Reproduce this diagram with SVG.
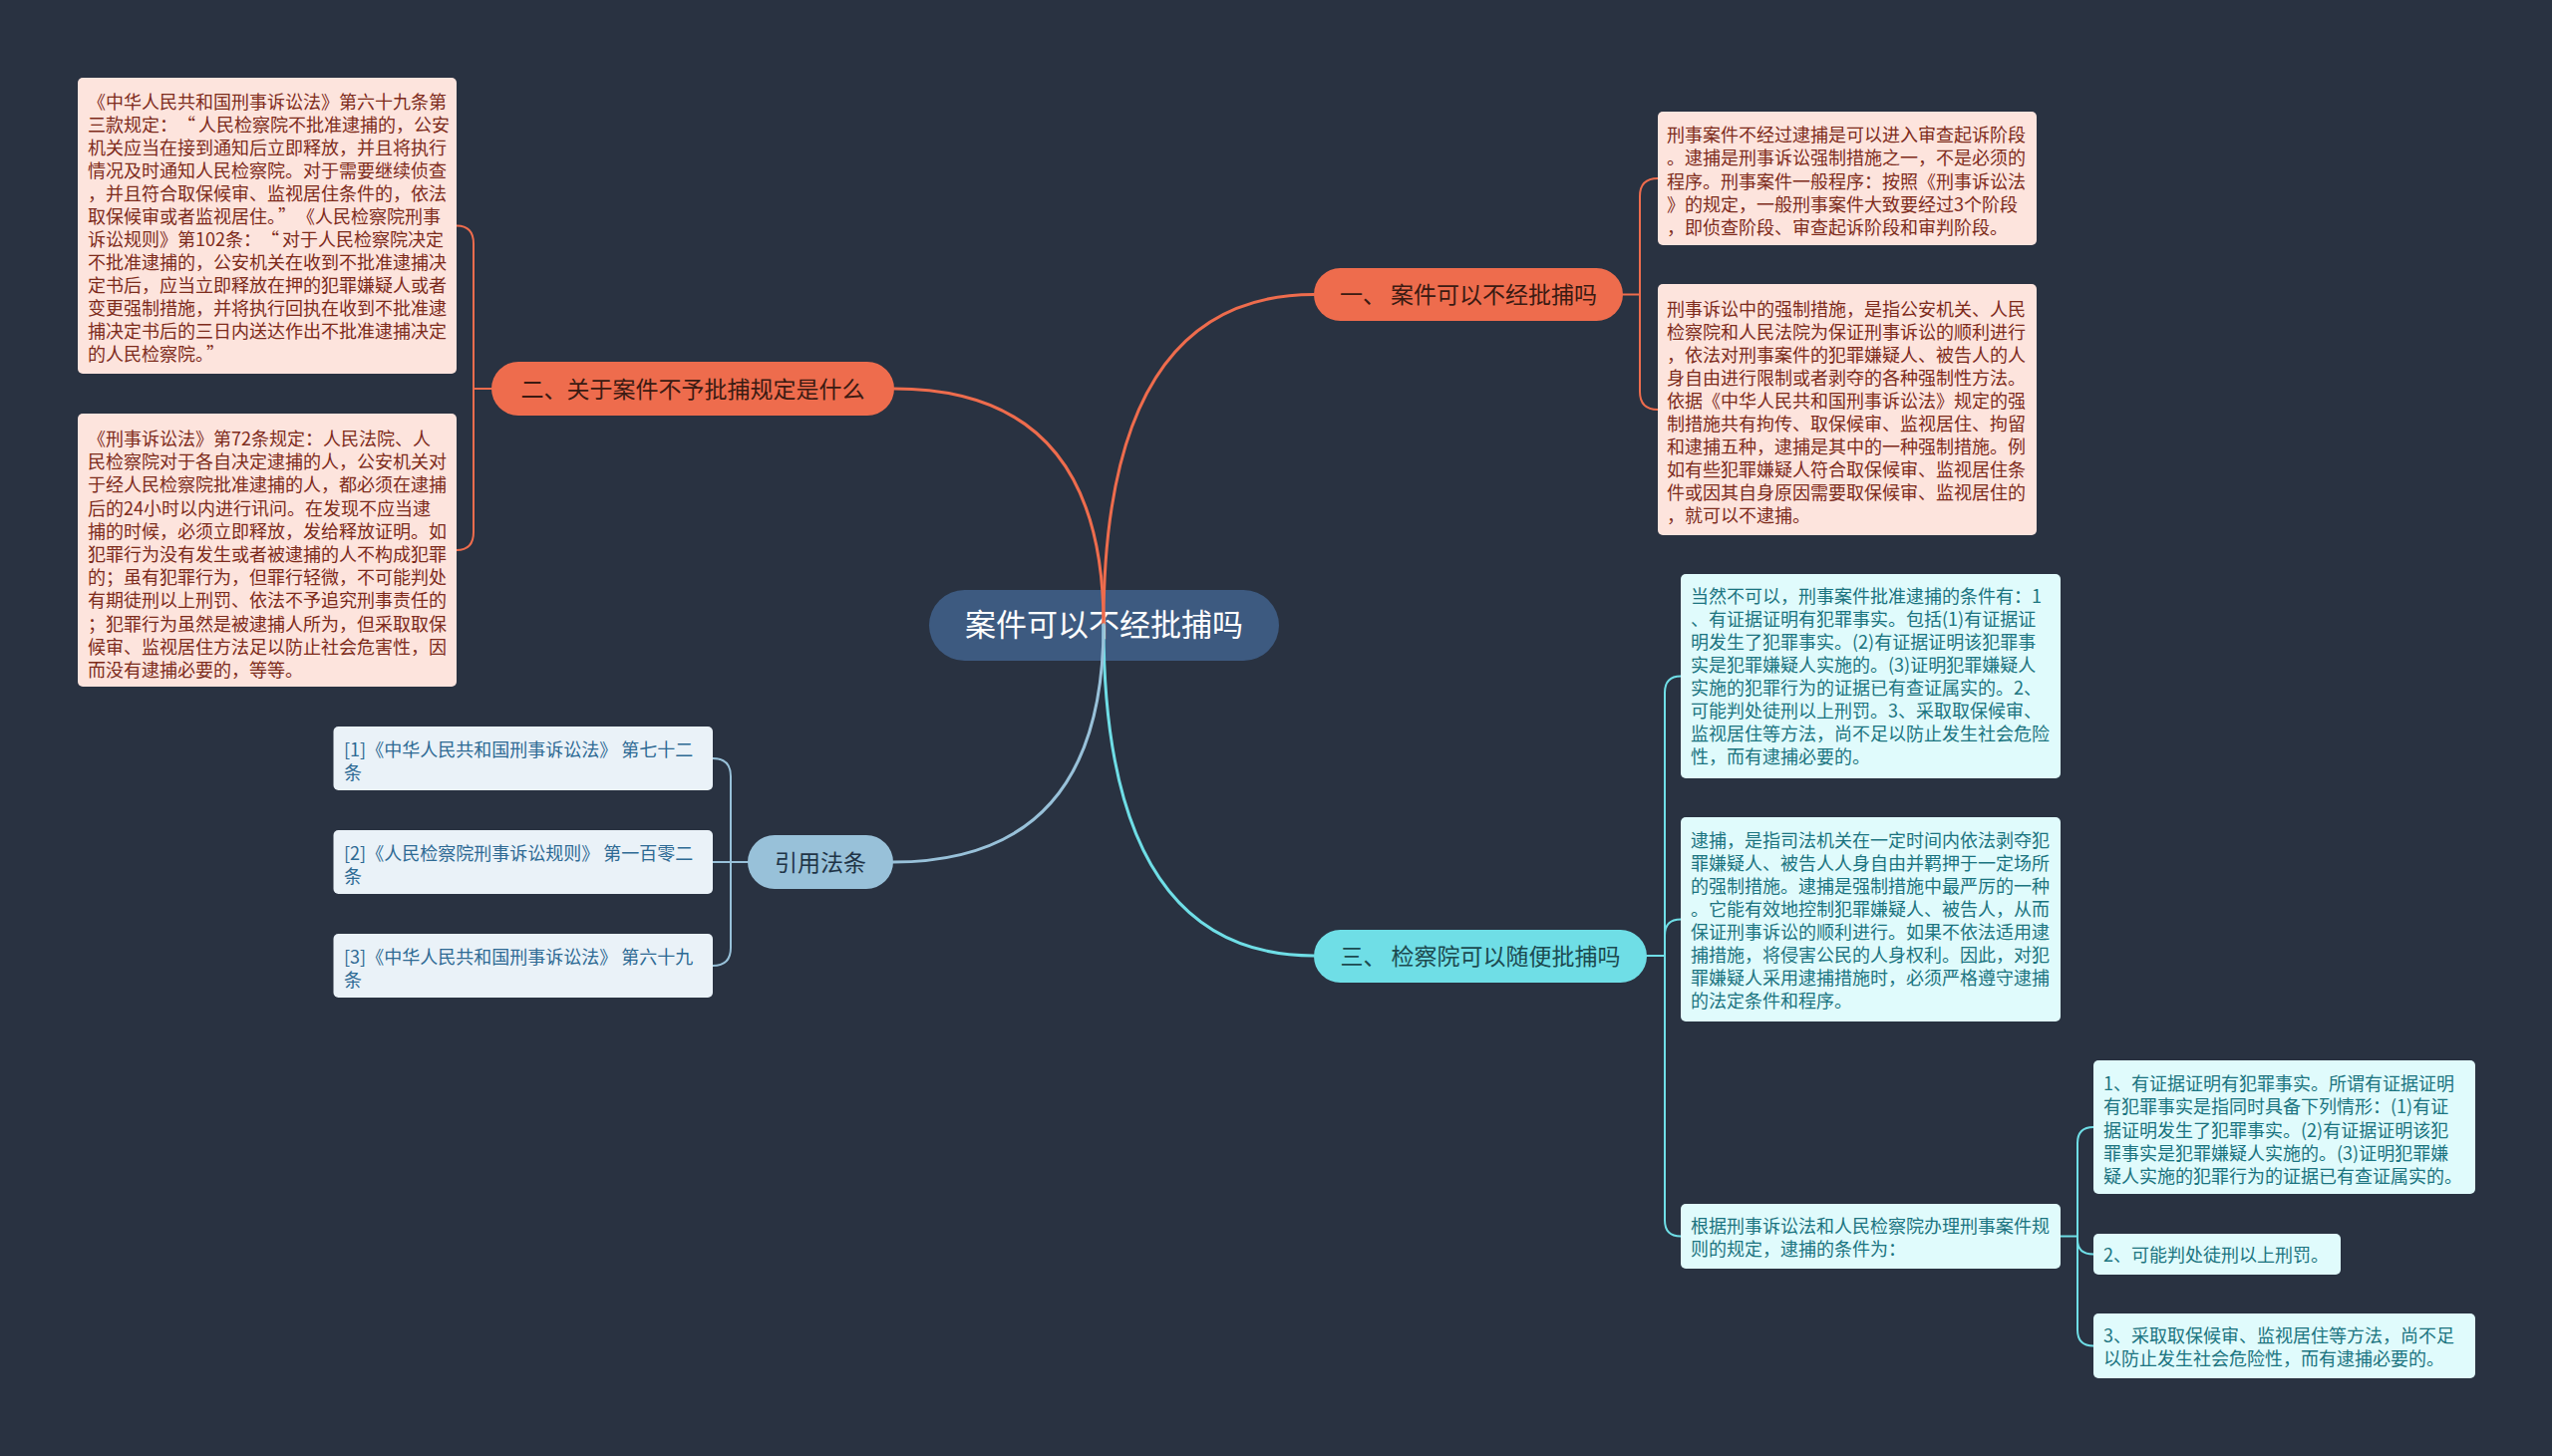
<svg xmlns="http://www.w3.org/2000/svg" width="2560" height="1461" viewBox="0 0 2560 1461">
<style>
text{font-family:"Noto Sans CJK SC","Liberation Sans",sans-serif}
.bg{fill:#293241}
.pk{fill:#fde4dd}
.pkt{fill:#7d2b1b;font-size:18px}
.cy{fill:#e0fbfc}
.cyt{fill:#1b7480;font-size:18px}
.bl{fill:#eaf2f8}
.blt{fill:#2e6a94;font-size:18px}
.nt{font-size:23px;text-anchor:middle}
.c{fill:none;stroke-linecap:round}
.or{stroke:#ee6c4d}
.cn{stroke:#6fdee6}
.bu{stroke:#98c1d9}
.m{stroke-width:3}
.s{stroke-width:2}
</style>
<rect class="bg" x="0" y="0" width="2560" height="1461"/>

<g id="root">
<rect x="932" y="592" width="351" height="71" rx="35.5" fill="#3d5a80"/>
<text x="1107.5" y="638" font-size="31" fill="#ffffff" text-anchor="middle">案件可以不经批捕吗</text>
</g>

<g id="connectors">
<path class="c or m" d="M1107 627 Q1107 295.5 1318 295.5"/>
<path class="c or m" d="M1107 627 Q1107 390 897 390"/>
<path class="c cn m" d="M1107 627 Q1107 959 1318 959"/>
<path class="c bu m" d="M1107 627 Q1107 865 896 865"/>
<path class="c or s" d="M1628 295.5 H1645 M1645 295.5 V197 Q1645 179 1663 179 M1645 295.5 V393 Q1645 411 1663 411"/>
<path class="c or s" d="M493 390 H475 M475 390 V244.5 Q475 226.5 458 226.5 M475 390 V534 Q475 552 458 552"/>
<path class="c bu s" d="M750 865 H715 M733 865 V779 Q733 761 715 761 M733 865 V951 Q733 969 715 969"/>
<path class="c cn s" d="M1652 959 H1670 M1670 959 V695 Q1670 678.5 1686 678.5 M1670 959 V938.5 Q1670 922.5 1686 922.5 M1670 959 V1224.5 Q1670 1240.5 1686 1240.5"/>
<path class="c cn s" d="M2067 1240.5 H2084 M2084 1240.5 V1147 Q2084 1131 2100 1131 M2084 1240.5 V1244 Q2084 1258.5 2100 1258.5 M2084 1240.5 V1334.5 Q2084 1350.5 2100 1350.5"/>
</g>

<g id="n1">
<rect x="1318" y="269" width="310" height="53" rx="26.5" fill="#ee6c4d"/>
<text class="nt" x="1473" y="304" fill="#3a1a12">一、 案件可以不经批捕吗</text>
</g>

<g id="n2">
<rect x="493" y="363" width="404" height="54" rx="27" fill="#ee6c4d"/>
<text class="nt" x="695" y="398.5" fill="#3a1a12">二、关于案件不予批捕规定是什么</text>
</g>

<g id="n3">
<rect x="1318" y="933" width="334" height="53" rx="26.5" fill="#6fdee6"/>
<text class="nt" x="1485" y="968" fill="#1c4a50">三、 检察院可以随便批捕吗</text>
</g>

<g id="n4">
<rect x="750" y="838" width="146" height="54" rx="27" fill="#98c1d9"/>
<text class="nt" x="823" y="873.5" fill="#1f3447">引用法条</text>
</g>

<g id="n1a">
<rect class="pk" x="1663" y="112" width="380" height="134" rx="5"/>
<text class="pkt">
<tspan x="1672" y="142">刑事案件不经过逮捕是可以进入审查起诉阶段</tspan>
<tspan x="1672" y="165.3">。逮捕是刑事诉讼强制措施之一，不是必须的</tspan>
<tspan x="1672" y="188.6">程序。刑事案件一般程序：按照《刑事诉讼法</tspan>
<tspan x="1672" y="211.9">》的规定，一般刑事案件大致要经过3个阶段</tspan>
<tspan x="1672" y="235.2">，即侦查阶段、审查起诉阶段和审判阶段。</tspan>
</text>
</g>

<g id="n1b">
<rect class="pk" x="1663" y="285" width="380" height="252" rx="5"/>
<text class="pkt">
<tspan x="1672" y="317">刑事诉讼中的强制措施，是指公安机关、人民</tspan>
<tspan x="1672" y="340">检察院和人民法院为保证刑事诉讼的顺利进行</tspan>
<tspan x="1672" y="363">，依法对刑事案件的犯罪嫌疑人、被告人的人</tspan>
<tspan x="1672" y="386">身自由进行限制或者剥夺的各种强制性方法。</tspan>
<tspan x="1672" y="409">依据《中华人民共和国刑事诉讼法》规定的强</tspan>
<tspan x="1672" y="432">制措施共有拘传、取保候审、监视居住、拘留</tspan>
<tspan x="1672" y="455">和逮捕五种，逮捕是其中的一种强制措施。例</tspan>
<tspan x="1672" y="478">如有些犯罪嫌疑人符合取保候审、监视居住条</tspan>
<tspan x="1672" y="501">件或因其自身原因需要取保候审、监视居住的</tspan>
<tspan x="1672" y="524">，就可以不逮捕。</tspan>
</text>
</g>

<g id="n2a">
<rect class="pk" x="78" y="78" width="380" height="297" rx="5"/>
<text class="pkt">
<tspan x="88" y="109">《中华人民共和国刑事诉讼法》第六十九条第</tspan>
<tspan x="88" y="132">三款规定：<tspan dx="9">“</tspan><tspan dx="3">人民检察院不批准逮捕的，公安</tspan></tspan>
<tspan x="88" y="155">机关应当在接到通知后立即释放，并且将执行</tspan>
<tspan x="88" y="178">情况及时通知人民检察院。对于需要继续侦查</tspan>
<tspan x="88" y="201">，并且符合取保候审、监视居住条件的，依法</tspan>
<tspan x="88" y="224">取保候审或者监视居住。<tspan dx="2">”</tspan><tspan dx="10">《人民检察院刑事</tspan></tspan>
<tspan x="88" y="247">诉讼规则》第102条：<tspan dx="9">“</tspan><tspan dx="3">对于人民检察院决定</tspan></tspan>
<tspan x="88" y="270">不批准逮捕的，公安机关在收到不批准逮捕决</tspan>
<tspan x="88" y="293">定书后，应当立即释放在押的犯罪嫌疑人或者</tspan>
<tspan x="88" y="316">变更强制措施，并将执行回执在收到不批准逮</tspan>
<tspan x="88" y="339">捕决定书后的三日内送达作出不批准逮捕决定</tspan>
<tspan x="88" y="362">的人民检察院。<tspan dx="2">”</tspan></tspan>
</text>
</g>

<g id="n2b">
<rect class="pk" x="78" y="415" width="380" height="274" rx="5"/>
<text class="pkt">
<tspan x="88" y="447">《刑事诉讼法》第72条规定：人民法院、人</tspan>
<tspan x="88" y="470.2">民检察院对于各自决定逮捕的人，公安机关对</tspan>
<tspan x="88" y="493.4">于经人民检察院批准逮捕的人，都必须在逮捕</tspan>
<tspan x="88" y="516.6">后的24小时以内进行讯问。在发现不应当逮</tspan>
<tspan x="88" y="539.8">捕的时候，必须立即释放，发给释放证明。如</tspan>
<tspan x="88" y="563">犯罪行为没有发生或者被逮捕的人不构成犯罪</tspan>
<tspan x="88" y="586.2">的；虽有犯罪行为，但罪行轻微，不可能判处</tspan>
<tspan x="88" y="609.4">有期徒刑以上刑罚、依法不予追究刑事责任的</tspan>
<tspan x="88" y="632.6">；犯罪行为虽然是被逮捕人所为，但采取取保</tspan>
<tspan x="88" y="655.8">候审、监视居住方法足以防止社会危害性，因</tspan>
<tspan x="88" y="679">而没有逮捕必要的，等等。</tspan>
</text>
</g>

<g id="n3a">
<rect class="cy" x="1686" y="576" width="381" height="205" rx="5"/>
<text class="cyt">
<tspan x="1696" y="605">当然不可以，刑事案件批准逮捕的条件有：1</tspan>
<tspan x="1696" y="628">、有证据证明有犯罪事实。包括(1)有证据证</tspan>
<tspan x="1696" y="651">明发生了犯罪事实。(2)有证据证明该犯罪事</tspan>
<tspan x="1696" y="674">实是犯罪嫌疑人实施的。(3)证明犯罪嫌疑人</tspan>
<tspan x="1696" y="697">实施的犯罪行为的证据已有查证属实的。2、</tspan>
<tspan x="1696" y="720">可能判处徒刑以上刑罚。3、采取取保候审、</tspan>
<tspan x="1696" y="743">监视居住等方法，尚不足以防止发生社会危险</tspan>
<tspan x="1696" y="766">性，而有逮捕必要的。</tspan>
</text>
</g>

<g id="n3b">
<rect class="cy" x="1686" y="820" width="381" height="205" rx="5"/>
<text class="cyt">
<tspan x="1696" y="850">逮捕，是指司法机关在一定时间内依法剥夺犯</tspan>
<tspan x="1696" y="873">罪嫌疑人、被告人人身自由并羁押于一定场所</tspan>
<tspan x="1696" y="896">的强制措施。逮捕是强制措施中最严厉的一种</tspan>
<tspan x="1696" y="919">。它能有效地控制犯罪嫌疑人、被告人，从而</tspan>
<tspan x="1696" y="942">保证刑事诉讼的顺利进行。如果不依法适用逮</tspan>
<tspan x="1696" y="965">捕措施，将侵害公民的人身权利。因此，对犯</tspan>
<tspan x="1696" y="988">罪嫌疑人采用逮捕措施时，必须严格遵守逮捕</tspan>
<tspan x="1696" y="1011">的法定条件和程序。</tspan>
</text>
</g>

<g id="n3c">
<rect class="cy" x="1686" y="1208" width="381" height="65" rx="5"/>
<text class="cyt">
<tspan x="1696" y="1237">根据刑事诉讼法和人民检察院办理刑事案件规</tspan>
<tspan x="1696" y="1260">则的规定，逮捕的条件为：</tspan>
</text>
</g>

<g id="n3c1">
<rect class="cy" x="2100" y="1064" width="383" height="134" rx="5"/>
<text class="cyt">
<tspan x="2110" y="1094">1、有证据证明有犯罪事实。所谓有证据证明</tspan>
<tspan x="2110" y="1117.3">有犯罪事实是指同时具备下列情形：(1)有证</tspan>
<tspan x="2110" y="1140.6">据证明发生了犯罪事实。(2)有证据证明该犯</tspan>
<tspan x="2110" y="1163.9">罪事实是犯罪嫌疑人实施的。(3)证明犯罪嫌</tspan>
<tspan x="2110" y="1187.2">疑人实施的犯罪行为的证据已有查证属实的。</tspan>
</text>
</g>

<g id="n3c2">
<rect class="cy" x="2100" y="1238" width="248" height="41" rx="5"/>
<text class="cyt" x="2110" y="1266">2、可能判处徒刑以上刑罚。</text>
</g>

<g id="n3c3">
<rect class="cy" x="2100" y="1318" width="383" height="65" rx="5"/>
<text class="cyt">
<tspan x="2110" y="1347">3、采取取保候审、监视居住等方法，尚不足</tspan>
<tspan x="2110" y="1370">以防止发生社会危险性，而有逮捕必要的。</tspan>
</text>
</g>

<g id="n4a">
<rect class="bl" x="334.5" y="729" width="380.5" height="64" rx="5"/>
<text class="blt">
<tspan x="345" y="758.5">[1]《中华人民共和国刑事诉讼法》 第七十二</tspan>
<tspan x="345" y="781.5">条</tspan>
</text>
</g>

<g id="n4b">
<rect class="bl" x="334.5" y="833" width="380.5" height="64" rx="5"/>
<text class="blt">
<tspan x="345" y="862.5">[2]《人民检察院刑事诉讼规则》 第一百零二</tspan>
<tspan x="345" y="885.5">条</tspan>
</text>
</g>

<g id="n4c">
<rect class="bl" x="334.5" y="937" width="380.5" height="64" rx="5"/>
<text class="blt">
<tspan x="345" y="966.5">[3]《中华人民共和国刑事诉讼法》 第六十九</tspan>
<tspan x="345" y="989.5">条</tspan>
</text>
</g>
</svg>
